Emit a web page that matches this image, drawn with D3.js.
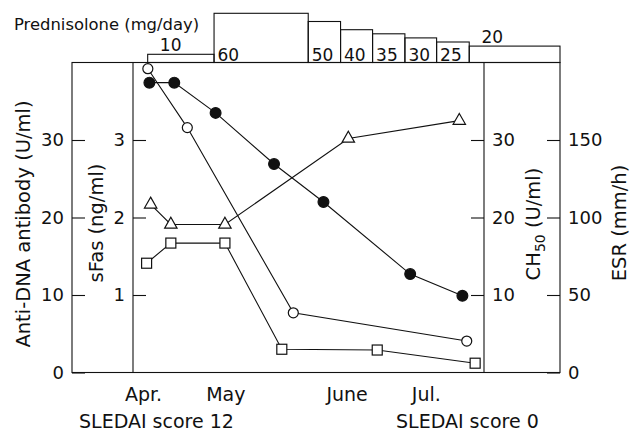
<!DOCTYPE html>
<html>
<head>
<meta charset="utf-8">
<script src="https://cdn.jsdelivr.net/npm/d3@7"></script>
<style>
  html, body { margin: 0; padding: 0; background: #fff; }
  svg text { font-family: "DejaVu Sans", sans-serif; fill: #111; }
</style>
</head>
<body>
<svg id="chart" width="641" height="430"></svg>
<script>
// Time is counted in days from 1 April.
const monthLabels = ["Apr.", "May", "June", "Jul."];
const monthDays = [0, 26.5, 65.5, 91];

// Anti-DNA antibody (U/ml), filled circles
const antiDnaDays = [1.9, 9.9, 23.2, 42.0, 57.9, 85.8, 102.6];
const antiDna = [37.4, 37.4, 33.5, 26.9, 22.0, 12.7, 9.9];

// ESR (mm/h), open circles
const esrDays = [1.4, 14.1, 48.2, 104.0];
const esr = [196, 158, 38.5, 20.3];

// CH50 (U/ml), triangles
const ch50Days = [2.3, 8.8, 26.2, 65.9, 101.6];
const ch50 = [21.7, 19.1, 19.1, 30.2, 32.5];

// sFas (ng/ml), squares
const sFasDays = [1.0, 8.8, 26.2, 44.5, 75.2, 106.7];
const sFas = [1.41, 1.67, 1.67, 0.30, 0.29, 0.12];

// Prednisolone dose steps (mg/day), each running from its start day to the next
const predDoses = [10, 60, 50, 40, 35, 30, 25, 20];
const predStartDays = [1.35, 22.7, 53.0, 63.4, 73.7, 84.1, 94.3, 104.8];
const predEndDay = 134;

// Tick values of the four vertical axes
const antiDnaTicks = [0, 10, 20, 30];
const sFasTicks = [1, 2, 3];
const ch50Ticks = [10, 20, 30];
const esrTicks = [0, 50, 100, 150];

const svg = d3.select("#chart");
const ink = "#111";

const x = d3.scaleLinear().domain([-23, 134]).range([72, 560]);
const plotTop = 62.5, plotBottom = 372.5;
const yAnti = d3.scaleLinear().domain([0, 40]).range([plotBottom, plotTop]);
const ySfas = d3.scaleLinear().domain([0, 4]).range([plotBottom, plotTop]);
const yCh50 = d3.scaleLinear().domain([0, 40]).range([plotBottom, plotTop]);
const yEsr = d3.scaleLinear().domain([0, 200]).range([plotBottom, plotTop]);
const yPred = d3.scaleLinear().domain([0, 60]).range([plotTop, 13.3]);

const left = x.range()[0], right = x.range()[1];
const sFasAxisX = 133, ch50AxisX = 484;

// Frame and inner axis lines
const frame = svg.append("g").attr("stroke", ink).attr("stroke-width", 1.1).attr("fill", "none");
frame.append("rect").attr("x", left).attr("y", plotTop)
  .attr("width", right - left).attr("height", plotBottom - plotTop);
[sFasAxisX, ch50AxisX].forEach(px => {
  frame.append("line").attr("x1", px).attr("x2", px).attr("y1", plotTop).attr("y2", plotBottom);
});

// Axes: ticks point inwards, labels sit outside
const intFmt = d3.format("d");
function drawAxis(axis, px) {
  const g = svg.append("g").attr("transform", `translate(${px},0)`)
    .call(axis.tickFormat(intFmt).tickSizeInner(-13).tickSizeOuter(0).tickPadding(8));
  g.select(".domain").remove();
  g.selectAll(".tick line").attr("stroke", ink).attr("stroke-width", 1.1);
  g.selectAll(".tick text").attr("font-size", 18).attr("font-family", "DejaVu Sans").attr("fill", ink);
  return g;
}
drawAxis(d3.axisLeft(yAnti).tickValues(antiDnaTicks), left);
drawAxis(d3.axisLeft(ySfas).tickValues(sFasTicks), sFasAxisX);
drawAxis(d3.axisRight(yCh50).tickValues(ch50Ticks), ch50AxisX);
drawAxis(d3.axisRight(yEsr).tickValues(esrTicks), right);

// Axis titles
function vTitle(px, py, build) {
  const t = svg.append("text")
    .attr("transform", `translate(${px},${py}) rotate(-90)`)
    .attr("text-anchor", "middle").attr("font-size", 19.5);
  build(t);
}
vTitle(30, 224, t => t.text("Anti-DNA antibody (U/ml)"));
vTitle(103, 223, t => t.text("sFas (ng/ml)"));
vTitle(540, 224, t => {
  t.append("tspan").text("CH");
  t.append("tspan").attr("font-size", 14).attr("dy", 5).text("50");
  t.append("tspan").attr("dy", -5).text(" (U/ml)");
});
vTitle(626, 223, t => t.text("ESR (mm/h)"));

// Prednisolone steps above the plot
svg.append("text").attr("x", 14).attr("y", 29.5).attr("font-size", 16.4).text("Prednisolone (mg/day)");
const steps = predDoses.map((d, i) => ({
  dose: d,
  x0: x(predStartDays[i]),
  x1: x(i + 1 < predStartDays.length ? predStartDays[i + 1] : predEndDay)
}));
const isLow = d => plotTop - yPred(d.dose) < 17;
const stepG = svg.append("g");
stepG.selectAll("rect").data(steps).join("rect")
  .attr("x", d => d.x0).attr("y", d => yPred(d.dose))
  .attr("width", d => d.x1 - d.x0).attr("height", d => plotTop - yPred(d.dose))
  .attr("fill", "none").attr("stroke", ink).attr("stroke-width", 1.1);
stepG.selectAll("text").data(steps).join("text")
  .attr("font-size", 17)
  .attr("text-anchor", d => (isLow(d) ? "middle" : "start"))
  .attr("x", d => (isLow(d) ? d.x0 + Math.min((d.x1 - d.x0) / 2, 23) : d.x0 + 3.5))
  .attr("y", d => (isLow(d) ? yPred(d.dose) - 3.5 : plotTop - 2))
  .text(d => d.dose);

// Series lines and markers
const series = [
  { days: antiDnaDays, vals: antiDna, y: yAnti, mark: "dot" },
  { days: esrDays, vals: esr, y: yEsr, mark: "circle" },
  { days: ch50Days, vals: ch50, y: yCh50, mark: "triangle" },
  { days: sFasDays, vals: sFas, y: ySfas, mark: "square" }
];
const line = d3.line().x(d => d[0]).y(d => d[1]);
series.forEach(s => {
  s.pts = s.days.map((d, i) => [x(d), s.y(s.vals[i])]);
  svg.append("path").attr("d", line(s.pts))
    .attr("fill", "none").attr("stroke", ink).attr("stroke-width", 1.1);
});
series.forEach(s => {
  const g = svg.append("g").attr("stroke", ink).attr("stroke-width", 1.2);
  s.pts.forEach(p => {
    if (s.mark === "dot") {
      g.append("circle").attr("cx", p[0]).attr("cy", p[1]).attr("r", 5.4).attr("fill", ink);
    } else if (s.mark === "circle") {
      g.append("circle").attr("cx", p[0]).attr("cy", p[1]).attr("r", 5).attr("fill", "#fff");
    } else if (s.mark === "triangle") {
      g.append("path").attr("transform", `translate(${p[0]},${p[1]})`)
        .attr("d", "M0,-7.2L6.2,3.7L-6.2,3.7Z").attr("fill", "#fff");
    } else {
      g.append("rect").attr("x", p[0] - 5).attr("y", p[1] - 5)
        .attr("width", 10).attr("height", 10).attr("fill", "#fff");
    }
  });
});

// Month labels and disease activity scores
svg.append("g").selectAll("text").data(monthLabels).join("text")
  .attr("x", (d, i) => x(monthDays[i])).attr("y", 400.5)
  .attr("text-anchor", "middle").attr("font-size", 19).text(d => d);
svg.append("text").attr("x", 79).attr("y", 427.5).attr("font-size", 19).text("SLEDAI score 12");
svg.append("text").attr("x", 396).attr("y", 427.5).attr("font-size", 19).text("SLEDAI score 0");
</script>
</body>
</html>
